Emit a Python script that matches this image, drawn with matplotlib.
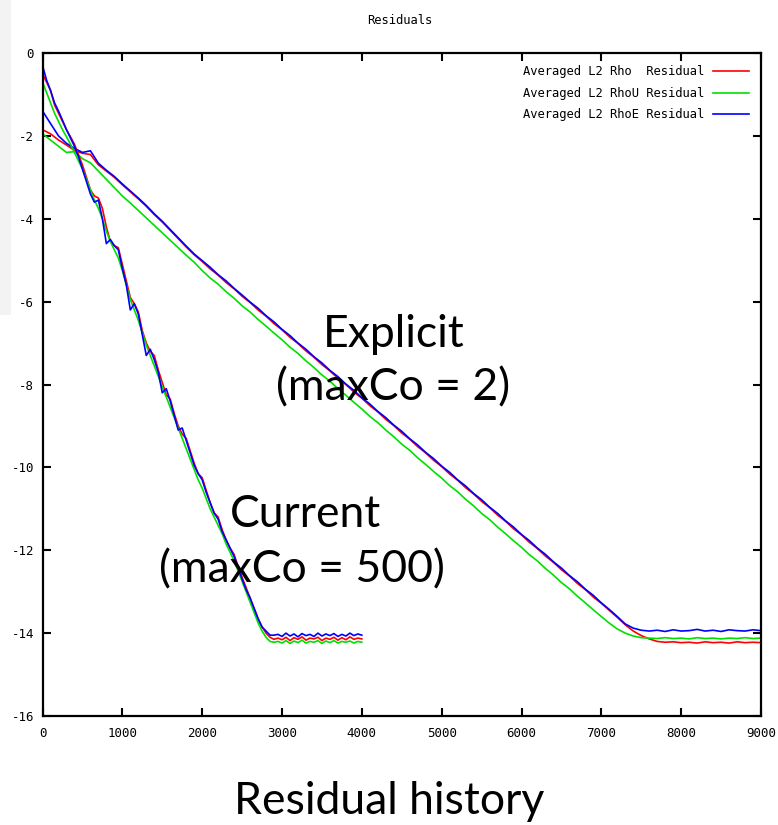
import numpy as np
import matplotlib
matplotlib.use("Agg")
import matplotlib.pyplot as plt
from matplotlib.patches import Rectangle

plt.rcParams['axes.unicode_minus'] = False

# ---------------- data ----------------
series_labels = ["Averaged L2 Rho  Residual",
                 "Averaged L2 RhoU Residual",
                 "Averaged L2 RhoE Residual"]
series_colors = ["#ff0000", "#00e000", "#0000ff"]

# "Current" run (maxCo = 500): iterations 0..4000 every 50
current_iter = np.arange(0, 4001, 50)
current_rho = [-0.50, -0.70, -0.90, -1.25, -1.45, -1.65, -1.85, -2.02, -2.20, -2.45,
               -2.70, -3.00, -3.30, -3.45, -3.50, -3.75, -4.20, -4.55, -4.65, -4.70,
               -5.10, -5.50, -5.90, -6.05, -6.25, -6.70, -7.00, -7.20, -7.30, -7.65,
               -7.95, -8.25, -8.35, -8.70, -9.00, -9.20, -9.30, -9.60, -9.90, -10.15,
               -10.25, -10.55, -10.85, -11.10, -11.20, -11.50, -11.75, -11.95, -12.10, -12.40,
               -12.65, -12.90, -13.15, -13.40, -13.65, -13.85, -14.00, -14.10, -14.15,
               -14.12, -14.16, -14.10, -14.18, -14.11, -14.15, -14.09, -14.17, -14.12, -14.14,
               -14.10, -14.18, -14.12, -14.15, -14.10, -14.17, -14.11, -14.16, -14.09, -14.15,
               -14.12, -14.14]
current_rhou = [-0.70, -0.95, -1.20, -1.45, -1.65, -1.85, -2.02, -2.20, -2.40, -2.60,
                -2.80, -3.05, -3.30, -3.55, -3.75, -4.00, -4.30, -4.55, -4.75, -4.95,
                -5.25, -5.60, -5.95, -6.20, -6.45, -6.75, -7.05, -7.30, -7.55, -7.80,
                -8.05, -8.30, -8.55, -8.80, -9.05, -9.30, -9.55, -9.80, -10.05, -10.30,
                -10.50, -10.75, -11.00, -11.20, -11.40, -11.60, -11.85, -12.05, -12.25, -12.50,
                -12.75, -13.00, -13.25, -13.50, -13.75, -13.95, -14.10, -14.20, -14.22,
                -14.20, -14.24, -14.18, -14.25, -14.19, -14.23, -14.17, -14.24, -14.20, -14.22,
                -14.18, -14.25, -14.19, -14.23, -14.18, -14.24, -14.20, -14.22, -14.19, -14.24,
                -14.20, -14.22]
current_rhoe = [-0.30, -0.65, -0.90, -1.20, -1.40, -1.62, -1.85, -2.05, -2.25, -2.50,
                -2.80, -3.10, -3.40, -3.60, -3.55, -4.00, -4.60, -4.50, -4.65, -4.75,
                -5.20, -5.60, -6.20, -6.05, -6.30, -6.80, -7.30, -7.15, -7.40, -7.70,
                -8.20, -8.10, -8.40, -8.75, -9.10, -9.05, -9.35, -9.65, -9.95, -10.15,
                -10.30, -10.60, -10.85, -11.10, -11.25, -11.55, -11.75, -11.95, -12.15, -12.40,
                -12.70, -12.95, -13.15, -13.40, -13.65, -13.85, -13.95, -14.05, -14.05,
                -14.03, -14.08, -14.00, -14.07, -14.02, -14.09, -14.01, -14.06, -14.03, -14.08,
                -14.00, -14.07, -14.02, -14.06, -14.01, -14.08, -14.03, -14.07, -14.00, -14.06,
                -14.02, -14.05]

# "Explicit" run (maxCo = 2): iterations 0..9000 every 100
explicit_iter = np.arange(0, 9001, 100)
explicit_rho = [-1.85, -1.95, -2.10, -2.22, -2.35, -2.42, -2.45, -2.70, -2.85, -3.00,
                -3.18, -3.35, -3.52, -3.70, -3.90, -4.08, -4.28, -4.48, -4.68, -4.87,
                -5.03, -5.21, -5.36, -5.54, -5.69, -5.87, -6.02, -6.20, -6.35, -6.53,
                -6.68, -6.86, -7.01, -7.19, -7.34, -7.52, -7.67, -7.85, -8.00, -8.18,
                -8.33, -8.51, -8.66, -8.84, -8.99, -9.17, -9.32, -9.50, -9.65, -9.83,
                -9.98, -10.16, -10.31, -10.49, -10.64, -10.82, -10.97, -11.15, -11.30, -11.48,
                -11.63, -11.81, -11.96, -12.14, -12.29, -12.47, -12.62, -12.80, -12.95, -13.13,
                -13.28, -13.45, -13.62, -13.80, -13.95, -14.06, -14.14, -14.20, -14.22, -14.21,
                -14.23, -14.22, -14.24, -14.21, -14.23, -14.22, -14.24, -14.21, -14.23, -14.22,
                -14.23]
explicit_rhou = [-1.95, -2.10, -2.25, -2.40, -2.38, -2.55, -2.65, -2.85, -3.05, -3.25,
                 -3.45, -3.62, -3.80, -3.98, -4.16, -4.34, -4.52, -4.70, -4.88, -5.05,
                 -5.25, -5.43, -5.58, -5.76, -5.92, -6.10, -6.25, -6.43, -6.59, -6.76,
                 -6.92, -7.10, -7.25, -7.43, -7.59, -7.77, -7.92, -8.10, -8.26, -8.43,
                 -8.59, -8.77, -8.92, -9.10, -9.26, -9.44, -9.59, -9.77, -9.93, -10.10,
                 -10.26, -10.44, -10.59, -10.77, -10.93, -11.11, -11.26, -11.44, -11.60, -11.77,
                 -11.93, -12.11, -12.26, -12.44, -12.60, -12.78, -12.93, -13.11, -13.27, -13.44,
                 -13.60, -13.76, -13.90, -14.00, -14.07, -14.11, -14.12, -14.13, -14.11, -14.13,
                 -14.12, -14.14, -14.11, -14.13, -14.12, -14.14, -14.12, -14.13, -14.11, -14.13,
                 -14.12]
explicit_rhoe = [-1.40, -1.70, -2.00, -2.18, -2.30, -2.40, -2.36, -2.66, -2.83, -2.98,
                 -3.16, -3.33, -3.50, -3.68, -3.88, -4.06, -4.26, -4.46, -4.66, -4.85,
                 -5.01, -5.17, -5.35, -5.50, -5.68, -5.84, -6.01, -6.16, -6.34, -6.49,
                 -6.67, -6.82, -7.00, -7.15, -7.33, -7.48, -7.66, -7.81, -7.99, -8.14,
                 -8.32, -8.47, -8.65, -8.80, -8.98, -9.13, -9.31, -9.46, -9.64, -9.79,
                 -9.97, -10.12, -10.30, -10.45, -10.63, -10.78, -10.96, -11.11, -11.29, -11.44,
                 -11.62, -11.77, -11.95, -12.10, -12.28, -12.43, -12.61, -12.76, -12.94, -13.09,
                 -13.27, -13.43, -13.60, -13.78, -13.88, -13.93, -13.95, -13.93, -13.96, -13.92,
                 -13.95, -13.94, -13.91, -13.95, -13.93, -13.96, -13.92, -13.94, -13.95, -13.92,
                 -13.94]

x_ticks = list(range(0, 9001, 1000))
y_ticks = list(range(-16, 1, 2))

small_font = "DejaVu Sans Mono"

# ---------------- figure ----------------
W, H = 778, 825
fig = plt.figure(figsize=(W / 100, H / 100), dpi=100)
fig.patch.set_facecolor("white")

# light grey strip at the top-left edge
fig.patches.append(Rectangle((0, 1 - 315 / H), 11 / W, 315 / H, transform=fig.transFigure,
                             facecolor="#f3f3f3", edgecolor="none", zorder=0))

ax = fig.add_axes([42.5 / W, (H - 716) / H, 718.5 / W, 663 / H])

explicit_sets = [explicit_rho, explicit_rhou, explicit_rhoe]
current_sets = [current_rho, current_rhou, current_rhoe]
for lab, col, ys in zip(series_labels, series_colors, explicit_sets):
    ax.plot(explicit_iter, ys, color=col, lw=1.2, label=lab)
for col, ys in zip(series_colors, current_sets):
    ax.plot(current_iter, ys, color=col, lw=1.2)

ax.set_xlim(0, 9000)
ax.set_ylim(-16, 0)
ax.set_xticks(x_ticks)
ax.set_yticks(y_ticks)
ax.set_xticklabels([str(v) for v in x_ticks])
ax.set_yticklabels([str(v) for v in y_ticks])
ax.tick_params(direction="in", length=6, width=1.5, top=True, right=True,
               labelsize=9, colors="black")
ax.tick_params(axis="x", pad=8)
ax.tick_params(axis="y", pad=6)
for lab in ax.get_xticklabels() + ax.get_yticklabels():
    lab.set_family(small_font)
for sp in ax.spines.values():
    sp.set_linewidth(1.6)

leg = ax.legend(loc="upper right", markerfirst=False, frameon=False,
                prop={"family": small_font, "size": 8.7},
                handlelength=3.0, handletextpad=0.7, labelspacing=0.72,
                borderpad=0.0, borderaxespad=1.0)

fig.text(400 / W, 1 - 20 / H, "Residuals", ha="center", va="center",
         family=small_font, fontsize=8.7)

big = dict(family="Lato", fontsize=32, color="black")
fig.text(394 / W, 1 - 347 / H, "Explicit", ha="center", va="baseline", **big)
fig.text(393 / W, 1 - 400 / H, "(maxCo = 2)", ha="center", va="baseline", **big)
fig.text(305 / W, 1 - 527 / H, "Current", ha="center", va="baseline", **big)
fig.text(302 / W, 1 - 582 / H, "(maxCo = 500)", ha="center", va="baseline", **big)
fig.text(389 / W, 1 - 814 / H, "Residual history", ha="center", va="baseline", **big)

fig.savefig("out.png", dpi=100)
